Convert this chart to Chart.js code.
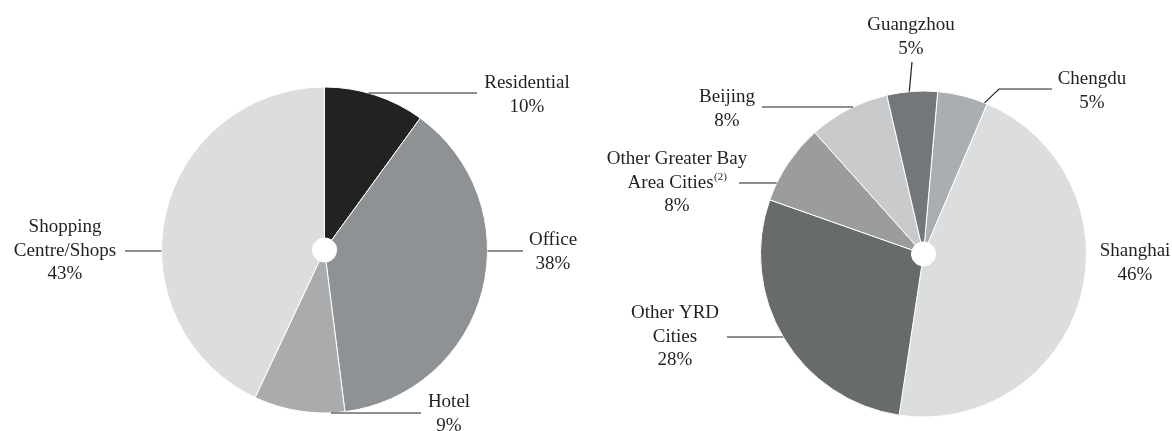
<!DOCTYPE html>
<html><head><meta charset="utf-8">
<script src="https://cdn.jsdelivr.net/npm/chart.js@4.4.1/dist/chart.umd.min.js"></script>
<style>
html,body{margin:0;padding:0;background:#fff;width:1172px;height:431px;overflow:hidden}
#wrap{position:relative;width:1172px;height:431px}
canvas{position:absolute;top:0}
</style></head><body>
<div id="wrap">
<canvas id="c1" width="586" height="431" style="left:0px"></canvas>
<canvas id="c2" width="586" height="431" style="left:586px"></canvas>
</div>
<script>
// ---- data: left pie (by sector), clockwise from 12 o'clock
const sectorCategories = ['Residential', 'Office', 'Hotel', 'Shopping Centre/Shops'];
const sectorValues = [10, 38, 9, 43];
const sectorLabelLines = [['Residential'], ['Office'], ['Hotel'], ['Shopping', 'Centre/Shops']];
const sectorColors = ['#222220', '#8f9294', '#a9abad', '#dbdddf'];

// ---- data: right pie (by city), clockwise from the rotation start
const cityCategories = ['Chengdu', 'Shanghai', 'Other YRD Cities', 'Other Greater Bay Area Cities', 'Beijing', 'Guangzhou'];
const cityValues = [5, 46, 28, 8, 8, 5];
const cityLabelLines = [['Chengdu'], ['Shanghai'], ['Other YRD', 'Cities'], ['Other Greater Bay', {t: 'Area Cities', sup: '(2)'}], ['Beijing'], ['Guangzhou']];
const cityColors = ['#abaeb0', '#dcdddf', '#686b6c', '#9a9c9e', '#c8cacc', '#74777a'];

// ---- label layout (offsets from pie centre), not data
const sectorLayout = [
  {tx: 202.5, ty: -167, lead: {type: 'h', y: -157, x2: 152.5}},
  {tx: 228.5, ty: -10, lead: {type: 'h', y: 1, x2: 198.5}},
  {tx: 124.5, ty: 152, lead: {type: 'h', y: 163, x1: 6.5, x2: 96.5}},
  {tx: -259.5, ty: -23, lead: {type: 'h', y: 1, x2: -199.5}}
];
const cityLayout = [
  {tx: 168.5, ty: -175, lead: {type: 'a', a: 22, pts: [[75.5, -165], [128.5, -165]]}},
  {tx: 211.5, ty: -3, lead: null},
  {tx: -248.5, ty: 59, lead: {type: 'h', y: 83, x2: -196.5}},
  {tx: -246.5, ty: -95, lead: {type: 'h', y: -71, x2: -184.5}},
  {tx: -196.5, ty: -157, lead: {type: 'h', y: -147, x2: -161.5}},
  {tx: -12.5, ty: -229, lead: {type: 'a', a: -5, pts: [[-11.5, -192]]}}
];

const FONT = '19px "Liberation Serif", "Times New Roman", serif';
const SUPFONT = '11px "Liberation Serif", "Times New Roman", serif';
const INK = '#231f20';
const LH = 23.7;

const labelPlugin = {
  id: 'leaderLabels',
  afterDraw(chart, args, opts) {
    const ctx = chart.ctx;
    const meta = chart.getDatasetMeta(0);
    const arc0 = meta.data[0];
    const cx = arc0.x, cy = arc0.y, R = arc0.outerRadius;
    const values = chart.data.datasets[0].data;
    ctx.save();
    ctx.strokeStyle = INK;
    ctx.lineWidth = 1.2;
    ctx.fillStyle = INK;
    ctx.textAlign = 'center';
    ctx.textBaseline = 'middle';
    opts.layout.forEach((L, i) => {
      if (L.lead) {
        const ld = L.lead;
        ctx.beginPath();
        if (ld.type === 'h') {
          const sgn = Math.sign(ld.x2);
          const x1 = (ld.x1 !== undefined) ? ld.x1 : sgn * Math.sqrt(Math.max(R * R - ld.y * ld.y, 0));
          ctx.moveTo(cx + x1, cy + ld.y);
          ctx.lineTo(cx + ld.x2, cy + ld.y);
        } else {
          const a = ld.a * Math.PI / 180;
          ctx.moveTo(cx + R * Math.sin(a), cy - R * Math.cos(a));
          ld.pts.forEach(p => ctx.lineTo(cx + p[0], cy + p[1]));
        }
        ctx.stroke();
      }
      const lines = opts.lines[i].concat([values[i] + '%']);
      lines.forEach((ln, k) => {
        const y = cy + L.ty + k * LH;
        const x = cx + L.tx;
        if (typeof ln === 'string') {
          ctx.font = FONT;
          ctx.fillText(ln, x, y);
        } else {
          ctx.font = FONT;
          const w1 = ctx.measureText(ln.t).width;
          ctx.font = SUPFONT;
          const w2 = ctx.measureText(ln.sup).width;
          const start = x - (w1 + w2) / 2;
          ctx.textAlign = 'left';
          ctx.font = FONT;
          ctx.fillText(ln.t, start, y);
          ctx.font = SUPFONT;
          ctx.fillText(ln.sup, start + w1 + 0.5, y - 6);
          ctx.textAlign = 'center';
        }
      });
    });
    ctx.restore();
  }
};

function makePie(id, cats, vals, colors, rotation, padding, layout, lines) {
  return new Chart(document.getElementById(id), {
    type: 'doughnut',
    data: {
      labels: cats,
      datasets: [{data: vals, backgroundColor: colors, borderColor: '#ffffff', borderWidth: 1}]
    },
    options: {
      responsive: false,
      animation: false,
      devicePixelRatio: 1,
      cutout: 12,
      rotation: rotation,
      layout: {padding: padding},
      plugins: {
        legend: {display: false},
        tooltip: {enabled: false},
        leaderLabels: {layout: layout, lines: lines}
      }
    },
    plugins: [labelPlugin]
  });
}

makePie('c1', sectorCategories, sectorValues, sectorColors, 0,
  {left: 161, right: 98, top: 86.5, bottom: 17.5}, sectorLayout, sectorLabelLines);
makePie('c2', cityCategories, cityValues, cityColors, 5,
  {left: 174, right: 85, top: 90.5, bottom: 13.5}, cityLayout, cityLabelLines);
</script>
</body></html>
